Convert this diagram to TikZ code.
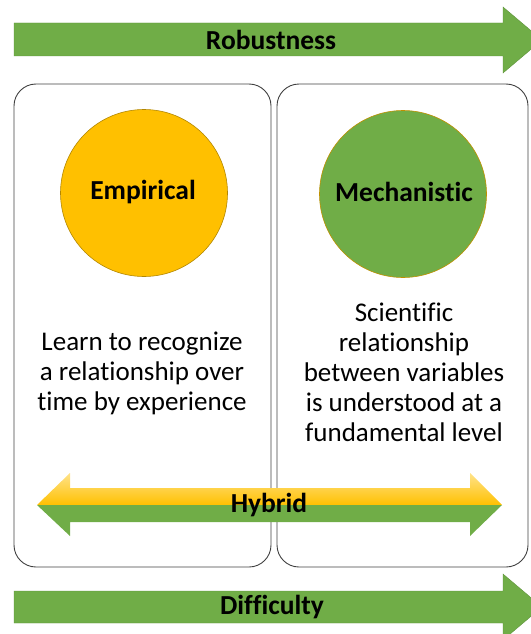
\documentclass[tikz,border=0pt]{standalone}
\usepackage{fontspec}
\setmainfont{Carlito}[Ligatures=NoCommon]
\usetikzlibrary{positioning}
\definecolor{leafgreen}{HTML}{70AD47}
\definecolor{amber}{HTML}{FFC000}
\definecolor{paleamber}{HTML}{FFE38A}
\newcommand{\bodyFont}[0]{\fontsize{27}{30}\selectfont}
\newcommand{\labelFont}[0]{\fontsize{27.5}{30}\selectfont\bfseries}

\begin{document}
\begin{tikzpicture}[x=1pt,y=-1pt]
  \tikzset{panel/.style={draw=black!75,line width=0.9pt,rounded corners=22pt},
           bar/.style={fill=leafgreen,draw=leafgreen!85!black,line width=0.4pt},
           blob/.style={circle,minimum size=167pt,inner sep=0pt,line width=0.6pt},
           tag/.style={font=\labelFont,inner sep=0pt},
           blurb/.style={font=\bodyFont,align=center,inner sep=0pt}}
  \useasboundingbox (0,0) rectangle (530,634);
  % panels
  \draw[panel] (14,84) rectangle (271,567);
  \draw[panel] (277,84) rectangle (528,567);
  % top and bottom arrows
  \draw[bar] (14,23) -- (503,23) -- (503,7) -- (542,40) -- (503,73) -- (503,56) -- (14,56) -- cycle;
  \draw[bar] (14,591) -- (503,591) -- (503,574) -- (542,607) -- (503,640) -- (503,623) -- (14,623) -- cycle;
  \node[tag] (robust) at (271,40) {Robustness};
  \node[tag] (diff) at (272,607) {Difficulty};
  % circles
  \node[blob,fill=amber,draw=amber!70!black] (emp) at (144,193) {};
  \node[blob,fill=leafgreen,draw=amber!75!black] (mech) at (403,194) {};
  \node[tag] (empl) at (143,192) {Empirical};
  \node[tag] (mechl) at (404,192) {Mechanistic};
  \node[blurb] (empt) at (142,373) {Learn to recognize\\a relationship over\\time by experience};
  \node[blurb] (mecht) at (404,372) {Scientific\\relationship\\between variables\\is understood at a\\fundamental level};
  % hybrid arrow
  \shade[top color=paleamber,bottom color=amber] (37,505) -- (70,473) -- (70,488) -- (470,488) -- (470,473) -- (502,505) -- cycle;
  \fill[leafgreen] (37,505) -- (70,536) -- (70,522) -- (470,522) -- (470,536) -- (502,505) -- cycle;
  \node[tag] (hyb) at (269,505) {Hybrid};
\end{tikzpicture}
\end{document}
